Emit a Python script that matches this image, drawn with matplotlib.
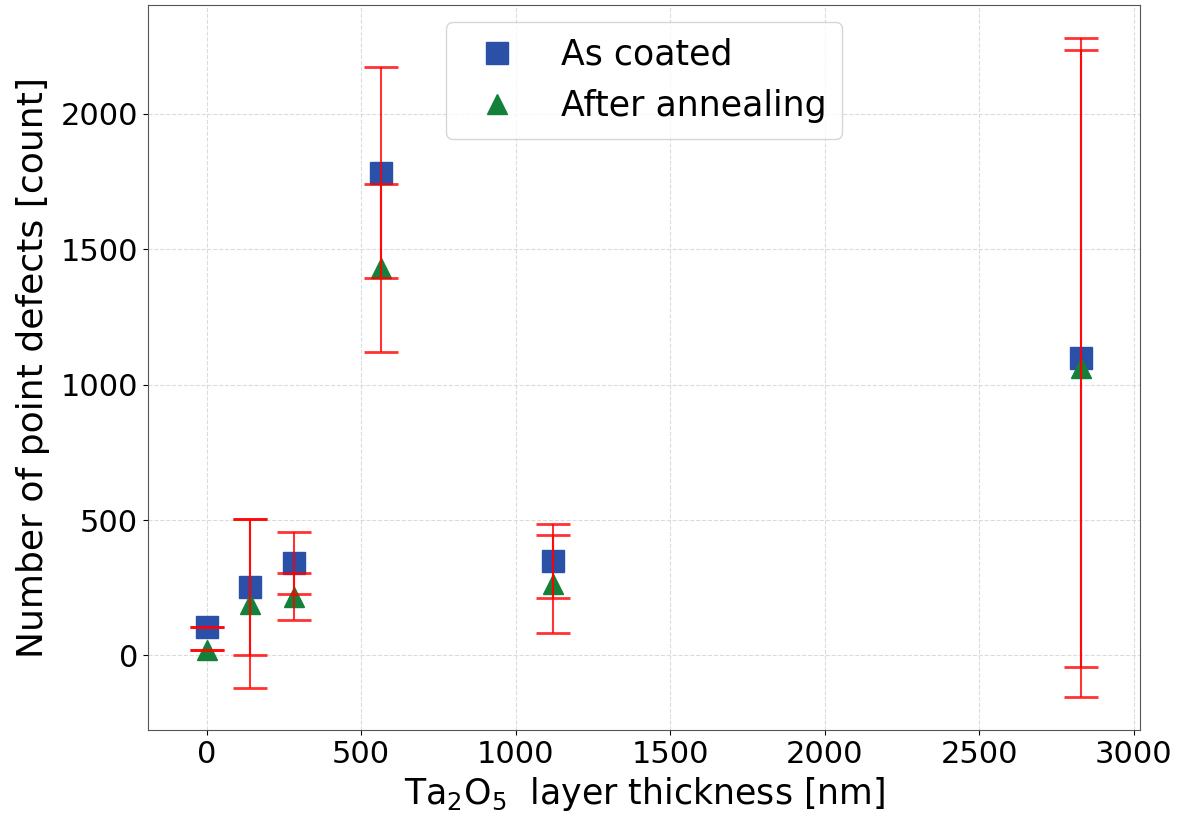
import numpy as np
import matplotlib
matplotlib.use('Agg')
import matplotlib.pyplot as plt

# Epaisseur de la couche Ta2O5 (nm)
thickness = [0, 140, 283, 563, 1120, 2830]

# Nombre de défauts ponctuels
coated = [104, 252, 341, 1783, 348, 1097]
coated_err = [0, 252, 115, 390, 137, 1141]
annealed = [19, 190, 217, 1430, 262, 1063]
annealed_err = [0, 312, 87, 311, 181, 1218]

xticks = [0, 500, 1000, 1500, 2000, 2500, 3000]

fig = plt.figure(figsize=(11.83, 8.16), dpi=100)
ax = fig.add_axes([0.125, 0.105, 0.839, 0.889])

ax.plot(thickness, coated, 's', color='#2a50a8', markersize=16,
        linestyle='none', label='As coated', zorder=2)
ax.plot(thickness, annealed, '^', color='#14813a', markersize=15,
        linestyle='none', label='After annealing', zorder=2)

ax.errorbar(thickness, coated, yerr=coated_err, fmt='none', ecolor='red',
            elinewidth=1.5, capsize=12, capthick=2, alpha=0.8, zorder=3)
ax.errorbar(thickness, annealed, yerr=annealed_err, fmt='none', ecolor='red',
            elinewidth=1.5, capsize=12, capthick=2, alpha=0.8, zorder=3)

ax.set_xlim(-190, 3022)
ax.set_xticks(xticks)
ax.grid(True, linestyle='--', color='#cccccc', alpha=0.7)
ax.set_axisbelow(True)
ax.tick_params(labelsize=22)
for s in ax.spines.values():
    s.set_color('#555555')

ax.set_xlabel('Ta$_2$O$_5$  layer thickness [nm]', fontsize=25)
ax.set_ylabel('Number of point defects [count]', fontsize=26, labelpad=8)
ax.legend(loc='upper center', fontsize=25, handletextpad=0.85,
          borderpad=0.45, labelspacing=0.5)

plt.savefig('out.png', dpi=100)
